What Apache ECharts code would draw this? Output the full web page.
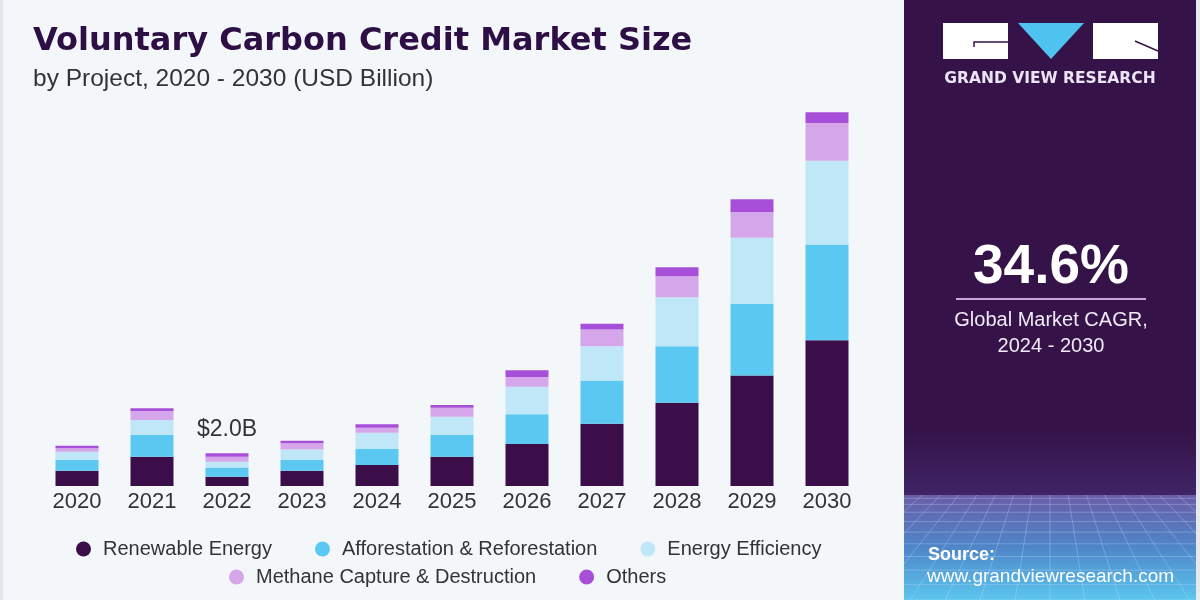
<!DOCTYPE html>
<html>
<head>
<meta charset="utf-8">
<title>Voluntary Carbon Credit Market Size</title>
<script src="https://cdn.jsdelivr.net/npm/echarts@6/dist/echarts.min.js"></script>
<style>
  html, body { margin: 0; padding: 0; background: #f3f7fa; }
  #chart { width: 1200px; height: 600px; }
</style>
</head>
<body>
<div id="chart"></div>
<script>
// values, USD billion
const years = ['2020', '2021', '2022', '2023', '2024', '2025', '2026', '2027', '2028', '2029', '2030']
const renewableEnergy = [0.94, 1.79, 0.57, 0.94, 1.28, 1.79, 2.57, 3.81, 5.09, 6.77, 8.93]
const afforestation = [0.65, 1.33, 0.57, 0.65, 0.98, 1.33, 1.83, 2.65, 3.47, 4.39, 5.85]
const energyEfficiency = [0.51, 0.92, 0.34, 0.65, 1.0, 1.12, 1.67, 2.1, 3.0, 4.04, 5.14]
const methaneCapture = [0.21, 0.55, 0.31, 0.37, 0.31, 0.55, 0.61, 1.02, 1.28, 1.57, 2.31]
const others = [0.16, 0.17, 0.21, 0.16, 0.21, 0.17, 0.41, 0.35, 0.55, 0.78, 0.65]
const seriesNames = [
  'Renewable Energy',
  'Afforestation & Reforestation',
  'Energy Efficiency',
  'Methane Capture & Destruction',
  'Others'
]
const seriesColors = ['#3b0e4a', '#5bc8f2', '#c0e7f8', '#d5a6e9', '#a74fd8']
const calloutYear = '2022'
const cagrText = '34.6%'
const cagrLabel = ['Global Market CAGR,', '2024 - 2030']

const chart = echarts.init(document.getElementById('chart'))

const allValues = [renewableEnergy, afforestation, energyEfficiency, methaneCapture, others]
const totals = years.map((y, i) => allValues.reduce((acc, arr) => acc + arr[i], 0))

// decorative grid at the bottom of the side panel
const panelX = 904
const panelR = 1196
const horizon = 495
const vanish = { x: 1050, y: 380 }
const gridLines = []
for (let i = 0; i <= 16; i++) {
  const hx = panelX + (i / 16) * (panelR - panelX)
  const k = (600 - vanish.y) / (horizon - vanish.y)
  let bx = vanish.x + (hx - vanish.x) * k
  let by = 600
  if (bx < panelX || bx > panelR) {
    const edge = bx < panelX ? panelX : panelR
    const t = (edge - hx) / (bx - hx)
    by = horizon + t * (600 - horizon)
    bx = edge
  }
  gridLines.push({
    type: 'line',
    silent: true,
    shape: { x1: hx, y1: horizon, x2: bx, y2: by },
    style: { stroke: 'rgba(210,230,255,0.28)', lineWidth: 1 }
  })
}
for (let i = 1; i <= 10; i++) {
  const y = horizon + 105 * Math.pow(i / 10, 1.5)
  gridLines.push({
    type: 'line',
    silent: true,
    shape: { x1: panelX, y1: y, x2: panelR, y2: y },
    style: { stroke: 'rgba(210,230,255,0.28)', lineWidth: 1 }
  })
}

const legendText = { fontFamily: 'Liberation Sans', fontSize: 20, color: '#333333', padding: [0, 0, 0, 7] }

const option = {
  backgroundColor: '#f3f7fa',
  animation: false,
  title: {
    text: 'Voluntary Carbon Credit Market Size',
    subtext: 'by Project, 2020 - 2030 (USD Billion)',
    left: 28,
    top: 21,
    itemGap: 9,
    textStyle: {
      fontFamily: 'DejaVu Sans',
      fontWeight: 'bold',
      fontSize: 32,
      color: '#2d0f45'
    },
    subtextStyle: {
      fontFamily: 'Liberation Sans',
      fontSize: 24.5,
      color: '#333333'
    }
  },
  legend: [
    {
      data: seriesNames.slice(0, 3),
      left: 71,
      top: 534,
      icon: 'circle',
      itemWidth: 15,
      itemHeight: 15,
      itemGap: 43,
      textStyle: legendText
    },
    {
      data: seriesNames.slice(3),
      left: 224,
      top: 562,
      icon: 'circle',
      itemWidth: 15,
      itemHeight: 15,
      itemGap: 43,
      textStyle: legendText
    }
  ],
  grid: {
    left: 39.5,
    right: 335.5,
    top: 94,
    bottom: 114,
    containLabel: false
  },
  xAxis: {
    type: 'category',
    data: years,
    axisLine: { show: false },
    axisTick: { show: false },
    axisLabel: {
      margin: 5,
      fontFamily: 'Liberation Sans',
      fontSize: 22,
      color: '#333333'
    }
  },
  yAxis: {
    type: 'value',
    min: 0,
    max: 24,
    show: false,
    splitLine: { show: false }
  },
  series: allValues.map((arr, idx) => ({
    name: seriesNames[idx],
    type: 'bar',
    stack: 'total',
    barWidth: 43,
    itemStyle: { color: seriesColors[idx] },
    data: arr.map((v, i) => {
      if (idx === allValues.length - 1 && years[i] === calloutYear) {
        return {
          value: v,
          label: {
            show: true,
            position: 'top',
            distance: 12,
            formatter: '$' + totals[i].toFixed(1) + 'B',
            fontFamily: 'Liberation Sans',
            fontSize: 23,
            color: '#333333'
          }
        }
      }
      return v
    })
  })),
  graphic: [
    { type: 'rect', silent: true, shape: { x: 0, y: 0, width: 3, height: 600 }, style: { fill: '#e2e6ea' } },
    { type: 'rect', silent: true, shape: { x: 904, y: 0, width: 296, height: 600 }, style: { fill: '#351349' } },
    {
      type: 'rect',
      silent: true,
      shape: { x: 904, y: 430, width: 292, height: 65 },
      style: {
        fill: new echarts.graphic.LinearGradient(0, 0, 0, 1, [
          { offset: 0, color: '#351349' },
          { offset: 1, color: '#3f2466' }
        ])
      }
    },
    {
      type: 'rect',
      silent: true,
      shape: { x: 904, y: 495, width: 292, height: 105 },
      style: {
        fill: new echarts.graphic.LinearGradient(0, 0, 0, 1, [
          { offset: 0, color: '#6a5da6' },
          { offset: 0.5, color: '#4f86c9' },
          { offset: 1, color: '#5cc6ee' }
        ])
      }
    },
    ...gridLines,
    { type: 'rect', silent: true, shape: { x: 1196, y: 0, width: 4, height: 600 }, style: { fill: '#e6eaee' } },
    // logo
    { type: 'rect', silent: true, shape: { x: 943, y: 23, width: 65, height: 36 }, style: { fill: '#ffffff' } },
    { type: 'polygon', silent: true, shape: { points: [[1018, 23], [1084, 23], [1051, 59]] }, style: { fill: '#4fc3f0' } },
    { type: 'rect', silent: true, shape: { x: 1093, y: 23, width: 65, height: 36 }, style: { fill: '#ffffff' } },
    { type: 'polyline', silent: true, shape: { points: [[1008, 42], [974, 42], [974, 47]] }, style: { stroke: '#351349', lineWidth: 1.5, fill: null } },
    { type: 'line', silent: true, shape: { x1: 1135, y1: 41, x2: 1158, y2: 51 }, style: { stroke: '#351349', lineWidth: 1.5 } },
    {
      type: 'text',
      silent: true,
      style: {
        x: 1050, y: 79, text: 'GRAND VIEW RESEARCH', align: 'center', verticalAlign: 'middle',
        fontFamily: 'DejaVu Sans', fontWeight: 'bold', fontSize: 15.5, fill: '#ece4f3'
      }
    },
    // CAGR block
    {
      type: 'text',
      silent: true,
      style: {
        x: 1051, y: 268, text: cagrText, align: 'center', verticalAlign: 'middle',
        fontFamily: 'Liberation Sans', fontWeight: 'bold', fontSize: 55, fill: '#ffffff'
      }
    },
    { type: 'line', silent: true, shape: { x1: 956, y1: 299, x2: 1146, y2: 299 }, style: { stroke: '#c8a7e0', lineWidth: 2 } },
    {
      type: 'text',
      silent: true,
      style: {
        x: 1051, y: 320, text: cagrLabel[0], align: 'center', verticalAlign: 'middle',
        fontFamily: 'Liberation Sans', fontSize: 20, fill: '#f0eaf5'
      }
    },
    {
      type: 'text',
      silent: true,
      style: {
        x: 1051, y: 346, text: cagrLabel[1], align: 'center', verticalAlign: 'middle',
        fontFamily: 'Liberation Sans', fontSize: 20, fill: '#f0eaf5'
      }
    },
    // source
    {
      type: 'text',
      silent: true,
      style: {
        x: 928, y: 555, text: 'Source:', verticalAlign: 'middle',
        fontFamily: 'Liberation Sans', fontWeight: 'bold', fontSize: 18, fill: '#ffffff'
      }
    },
    {
      type: 'text',
      silent: true,
      style: {
        x: 927, y: 577, text: 'www.grandviewresearch.com', verticalAlign: 'middle',
        fontFamily: 'Liberation Sans', fontSize: 19, fill: '#ffffff'
      }
    }
  ]
}

chart.setOption(option)
</script>
</body>
</html>
